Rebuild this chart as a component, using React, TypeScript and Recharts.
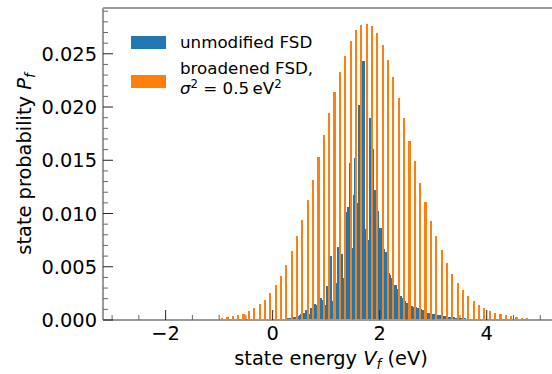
import { BarChart, Bar, XAxis, YAxis, Legend, ReferenceLine, Label } from "recharts"

// unmodified FSD, 0.02 eV grid starting at 0.26 eV
const blueProb = [
    0.0002, 0.0002, 0.0002, 0.0002, 0.0002, 0.0002, 0.0003, 0.0003, 0.0003, 0.0003,
    0.0003, 0.0004, 0.0004, 0.0006, 0.0005, 0.0006, 0.0007, 0.0007, 0.0009, 0.0008,
    0.0007, 0.0006, 0.0003, 0.0011, 0.0011, 0.0012, 0.0015, 0.0015, 0.0014, 0.0014,
    0.0013, 0.0017, 0.0021, 0.0003, 0.0019, 0.0019, 0.0014, 0.0014, 0.0032, 0.0032,
    0.0003, 0.0060, 0.0060, 0.0018, 0.0035, 0.0035, 0.0035, 0.0035, 0.0069, 0.0069,
    0.0065, 0.0062, 0.0062, 0.0039, 0.0039, 0.0087, 0.0101, 0.0106, 0.0106, 0.0147,
    0.0147, 0.0068, 0.0068, 0.0117, 0.0152, 0.0152, 0.0110, 0.0110, 0.0202, 0.0202,
    0.0221, 0.0243, 0.0243, 0.0085, 0.0070, 0.0072, 0.0075, 0.0075, 0.0190, 0.0190,
    0.0173, 0.0161, 0.0102, 0.0122, 0.0122, 0.0102, 0.0102, 0.0086, 0.0086, 0.0084,
    0.0077, 0.0067, 0.0064, 0.0064, 0.0064, 0.0048, 0.0044, 0.0042, 0.0039, 0.0034,
    0.0033, 0.0033, 0.0033, 0.0029, 0.0029, 0.0026, 0.0023, 0.0023, 0.0021, 0.0021,
    0.0019, 0.0018, 0.0016, 0.0016, 0.0015, 0.0014, 0.0013, 0.0013, 0.0012, 0.0012,
    0.0012, 0.0012, 0.0011, 0.0011, 0.0011, 0.0010, 0.0010, 0.0009, 0.0009, 0.0009,
    0.0008, 0.0007, 0.0007, 0.0007, 0.0007, 0.0006, 0.0006, 0.0006, 0.0006, 0.0005,
    0.0005, 0.0005, 0.0005, 0.0005, 0.0004, 0.0004, 0.0004, 0.0004, 0.0004, 0.0004,
    0.0003, 0.0003, 0.0003, 0.0003, 0.0003, 0.0003, 0.0003, 0.0003, 0.0002, 0.0002,
    0.0002, 0.0002, 0.0002, 0.0002, 0.0002, 0.0002, 0.0002, 0.0002, 0.0001, 0.0001,
]
const blueEnergy = blueProb.map((_, i) => Math.round((0.26 + i * 0.02) * 100) / 100)

// broadened FSD, 0.1 eV grid starting at -1.05 eV
const orangeProb = [
    0.00014, 0.00019, 0.00029, 0.00038, 0.00048, 0.00058, 0.00087, 0.00115, 0.00154, 0.00192,
    0.0025, 0.00327, 0.00414, 0.0052, 0.00644, 0.00789, 0.00943, 0.01125, 0.01318, 0.0153,
    0.01741, 0.01943, 0.02145, 0.02328, 0.02482, 0.02616, 0.02722, 0.0277, 0.0278, 0.0276,
    0.02694, 0.02578, 0.02443, 0.0228, 0.02087, 0.01895, 0.01684, 0.01491, 0.01289, 0.01106,
    0.00933, 0.00789, 0.00654, 0.00539, 0.00433, 0.00346, 0.00279, 0.00221, 0.00183, 0.00144,
    0.00115, 0.00087, 0.00067, 0.00058, 0.00043, 0.00038, 0.00029, 0.00019, 0.00019, 0.00014,
]
const orangeEnergy = orangeProb.map((_, i) => Math.round((-1.05 + i * 0.1) * 100) / 100)

const xTicks = [-3, -2.5, -2, -1.5, -1, -0.5, 0, 0.5, 1, 1.5, 2, 2.5, 3, 3.5, 4, 4.5, 5]
const xMajor = [-2, 0, 2, 4]
const yTicks = [
    0, 0.001, 0.002, 0.003, 0.004, 0.005, 0.006, 0.007, 0.008, 0.009,
    0.01, 0.011, 0.012, 0.013, 0.014, 0.015, 0.016, 0.017, 0.018, 0.019,
    0.02, 0.021, 0.022, 0.023, 0.024, 0.025, 0.026, 0.027, 0.028, 0.029,
]
const yMajor = [0, 0.005, 0.01, 0.015, 0.02, 0.025]

const blueData = blueEnergy.map((e, i) => ({ energy: e, prob: blueProb[i] }))
const orangeData = orangeEnergy.map((e, i) => ({ energy: e, prob: orangeProb[i] }))

const FONT = '"DejaVu Sans", sans-serif'
const BLUE = "#1f77b4"
const ORANGE = "#ff7f0e"
const SPINE = "#9a9a9a"
const X_DOMAIN = [-3.17, 5.35]
const Y_MAX = 0.0293
const W = 559
const H = 374
const MARGIN = { top: 8, right: 0, bottom: 0, left: 0 }

const isMajor = (v: number, list: number[]) => list.some(m => Math.abs(m - v) < 1e-9)

// keep recharts' bar centre and height, force a fixed pixel width
const fixedBar = (w: number, fill: string) => (p: any) => {
    if (!p.height || p.height <= 0) return <g />
    const cx = p.x + p.width / 2
    return <rect x={cx - w / 2} y={p.y} width={w} height={p.height} fill={fill} shapeRendering="crispEdges" />
}

const XTick = (props: any) => {
    const { x, y, payload } = props
    const v = payload.value
    const major = isMajor(v, xMajor)
    return (
        <g>
            <line x1={x} x2={x} y1={y} y2={y - (major ? 10 : 5)} stroke={major ? "#222" : "#666"} strokeWidth={1} />
            {major && (
                <text x={x} y={y + 19.5} textAnchor="middle" fontFamily={FONT} fontSize={19.4} fill="#000">
                    {v < 0 ? `\u2212${-v}` : `${v}`}
                </text>
            )}
        </g>
    )
}

const YTick = (props: any) => {
    const { x, y, payload } = props
    const v = payload.value
    const major = isMajor(v, yMajor)
    return (
        <g>
            <line x1={x} x2={x + (major ? 10 : 5)} y1={y} y2={y} stroke={major ? "#222" : "#666"} strokeWidth={1} />
            {major && (
                <text x={x - 6} y={y + 7} textAnchor="end" fontFamily={FONT} fontSize={19.4} fill="#000">
                    {v.toFixed(3)}
                </text>
            )}
        </g>
    )
}

const XTitle = (props: any) => {
    const vb = props.viewBox
    return (
        <text x={vb.x + vb.width / 2} y={vb.y + 45} textAnchor="middle" fontFamily={FONT} fontSize={19.4} fill="#000">
            {"state energy "}
            <tspan fontStyle="italic">V</tspan>
            <tspan fontStyle="italic" fontSize={13.6} dy={4}>f</tspan>
            <tspan dy={-4}>{" (eV)"}</tspan>
        </text>
    )
}

const YTitle = (props: any) => {
    const vb = props.viewBox
    const cx = vb.x + 31
    const cy = vb.y + vb.height / 2
    return (
        <text x={cx} y={cy} transform={`rotate(-90, ${cx}, ${cy})`} textAnchor="middle" fontFamily={FONT} fontSize={19.4} fill="#000">
            {"state probability "}
            <tspan fontStyle="italic">P</tspan>
            <tspan fontStyle="italic" fontSize={13.6} dy={4}>f</tspan>
        </text>
    )
}

const LegendBox = () => (
    <svg width={340} height={110} style={{ display: "block" }}>
        <rect x={131} y={36} width={35} height={13} fill={BLUE} />
        <text x={180} y={48} fontFamily={FONT} fontSize={16.7} fill="#000">unmodified FSD</text>
        <rect x={131} y={75} width={35} height={13} fill={ORANGE} />
        <text x={180} y={74} fontFamily={FONT} fontSize={16.7} fill="#000">broadened FSD,</text>
        <text x={180} y={94} fontFamily={FONT} fontSize={16.7} fill="#000">
            <tspan fontStyle="italic">σ</tspan>
            <tspan fontSize={11.7} dy={-6}>2</tspan>
            <tspan dy={6}>{" = 0.5\u2009eV"}</tspan>
            <tspan fontSize={11.7} dy={-6}>2</tspan>
        </text>
    </svg>
)

const App = () => {
    return (
        <div style={{ position: "absolute", left: 0, top: 0, width: 552, height: H, overflow: "hidden", background: "#fff" }}>
            {/* blue bars underneath */}
            <div style={{ position: "absolute", left: 0, top: 0 }}>
                <BarChart width={W} height={H} data={blueData} margin={MARGIN}>
                    <XAxis dataKey="energy" type="number" domain={X_DOMAIN} allowDataOverflow height={54}
                        ticks={xTicks} tick={false} axisLine={false} tickLine={false} />
                    <YAxis type="number" domain={[0, Y_MAX]} allowDataOverflow width={103}
                        ticks={yTicks} tick={false} axisLine={false} tickLine={false} />
                    <Bar dataKey="prob" fill={BLUE} barSize={1} shape={fixedBar(1.8, BLUE)} isAnimationActive={false} />
                </BarChart>
            </div>
            {/* orange bars, axes and legend on top */}
            <div style={{ position: "absolute", left: 0, top: 0 }}>
                <BarChart width={W} height={H} data={orangeData} margin={MARGIN}>
                    <XAxis dataKey="energy" type="number" domain={X_DOMAIN} allowDataOverflow height={54}
                        ticks={xTicks} interval={0} tick={<XTick />} tickSize={0} tickMargin={0} tickLine={false}
                        axisLine={{ stroke: SPINE, strokeWidth: 2 }}>
                        <Label content={XTitle} />
                    </XAxis>
                    <YAxis type="number" domain={[0, Y_MAX]} allowDataOverflow width={103}
                        ticks={yTicks} interval={0} tick={<YTick />} tickSize={0} tickMargin={0} tickLine={false}
                        axisLine={{ stroke: SPINE, strokeWidth: 2 }}>
                        <Label content={YTitle} />
                    </YAxis>
                    <ReferenceLine y={Y_MAX} stroke={SPINE} strokeWidth={2} />
                    <Bar dataKey="prob" fill={ORANGE} barSize={2} shape={fixedBar(2.1, ORANGE)} isAnimationActive={false} />
                    <Legend layout="vertical" align="center" verticalAlign="middle"
                        wrapperStyle={{ left: 0, top: 0, width: 340, height: 110 }}
                        content={() => <LegendBox />} />
                </BarChart>
            </div>
        </div>
    )
}

export default App
